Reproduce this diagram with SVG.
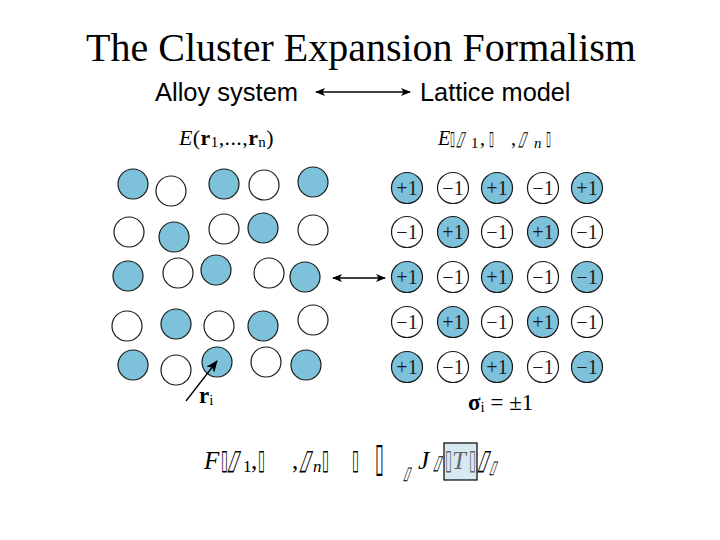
<svg xmlns="http://www.w3.org/2000/svg" width="720" height="540" viewBox="0 0 720 540">
<style>
.f{fill:#7dc1da;stroke:#1a1a1a;stroke-width:1.2}
.w{fill:#fff;stroke:#1a1a1a;stroke-width:1.2}
.num{font-family:"Liberation Serif",serif;font-size:20px;fill:#1a1a1a;text-anchor:middle}
.ser{font-family:"Liberation Serif",serif;fill:#000}
.tofu{font-family:"DejaVu Sans",sans-serif;fill:#000}
.g{fill:#666}
.ln{stroke:#000;stroke-width:1.3;fill:none}
</style>
<defs>
<marker id="ah" viewBox="0 0 10 8" refX="9" refY="4" markerWidth="10" markerHeight="8" markerUnits="userSpaceOnUse" orient="auto-start-reverse">
<path d="M0,0 L10,4 L0,8 L2.5,4 Z" fill="#000"/>
</marker>
<marker id="ah2" viewBox="0 0 12 10" refX="11" refY="5" markerWidth="12" markerHeight="10" markerUnits="userSpaceOnUse" orient="auto">
<path d="M0,0 L12,5 L0,10 L3,5 Z" fill="#000"/>
</marker>
</defs>
<rect width="720" height="540" fill="#fff"/>
<text id="title" x="361" y="61" class="ser" font-size="40" text-anchor="middle">The Cluster Expansion Formalism</text>
<text id="alloy" x="155" y="101" font-family="Liberation Sans,Arial,sans-serif" font-size="25.5">Alloy system</text>
<text id="lattice" x="420" y="101" font-family="Liberation Sans,Arial,sans-serif" font-size="25.3">Lattice model</text>
<text id="eleft" x="179" y="145" class="ser" font-size="22" letter-spacing="0.4"><tspan font-style="italic">E</tspan>(<tspan font-weight="bold">r</tspan><tspan font-size="15" dy="2">1</tspan><tspan dy="-2">,...,</tspan><tspan font-weight="bold">r</tspan><tspan font-size="15" dy="2">n</tspan><tspan dy="-2">)</tspan></text>
<g id="eright">
<text x="438" y="145" class="ser" font-size="20" font-style="italic">E</text>
<text transform="translate(450,145) scale(0.45,1)" class="tofu" font-size="20">▯</text>
<text transform="translate(456,145) skewX(-20) scale(0.6,1)" class="tofu" font-size="20">▯</text>
<text x="471" y="148" class="ser" font-size="15">1</text>
<text x="480" y="145" class="ser" font-size="20">,</text>
<text transform="translate(489,145) scale(0.45,1)" class="tofu" font-size="20">▯</text>
<text x="511" y="145" class="ser" font-size="20">,</text>
<text transform="translate(518,145) skewX(-20) scale(0.6,1)" class="tofu" font-size="20">▯</text>
<text x="534" y="148" class="ser" font-size="15" font-style="italic">n</text>
<text transform="translate(546,145) scale(0.45,1)" class="tofu" font-size="20">▯</text>
</g>
<g id="alloy-grid">
<circle class="f" cx="133" cy="184" r="15"/><circle class="w" cx="171" cy="191" r="15"/><circle class="f" cx="224" cy="184" r="15"/><circle class="w" cx="264" cy="185" r="15"/><circle class="f" cx="313" cy="182" r="15"/>
<circle class="w" cx="129" cy="232" r="15"/><circle class="f" cx="174" cy="237" r="15"/><circle class="w" cx="224" cy="229" r="15"/><circle class="f" cx="263" cy="228" r="15"/><circle class="w" cx="313" cy="230" r="15"/>
<circle class="f" cx="128" cy="276" r="15"/><circle class="w" cx="178" cy="273" r="15"/><circle class="f" cx="216" cy="270" r="15"/><circle class="w" cx="269" cy="273" r="15"/><circle class="f" cx="305" cy="277" r="15"/>
<circle class="w" cx="127" cy="326" r="15"/><circle class="f" cx="176" cy="324" r="15"/><circle class="w" cx="219" cy="326" r="15"/><circle class="f" cx="263" cy="326" r="15"/><circle class="w" cx="313" cy="320" r="15"/>
<circle class="f" cx="133" cy="365" r="15"/><circle class="w" cx="176" cy="370" r="15"/><circle class="f" cx="217" cy="362" r="15"/><circle class="w" cx="266" cy="362" r="15"/><circle class="f" cx="306" cy="365" r="15"/>
</g>
<text id="ri" x="199" y="403" class="ser" font-size="23" font-weight="bold">r<tspan font-size="15" font-weight="normal" dy="2">i</tspan></text>
<g id="lattice-grid">
<g><circle class="f" cx="407" cy="188" r="15.5"/><text class="num" x="407" y="195">+1</text></g>
<g><circle class="w" cx="453" cy="188" r="15.5"/><text class="num" x="453" y="195">−1</text></g>
<g><circle class="f" cx="497" cy="188" r="15.5"/><text class="num" x="497" y="195">+1</text></g>
<g><circle class="w" cx="543" cy="188" r="15.5"/><text class="num" x="543" y="195">−1</text></g>
<g><circle class="f" cx="587" cy="188" r="15.5"/><text class="num" x="587" y="195">+1</text></g>
<g><circle class="w" cx="407" cy="232" r="15.5"/><text class="num" x="407" y="239">−1</text></g>
<g><circle class="f" cx="453" cy="232" r="15.5"/><text class="num" x="453" y="239">+1</text></g>
<g><circle class="w" cx="497" cy="232" r="15.5"/><text class="num" x="497" y="239">−1</text></g>
<g><circle class="f" cx="543" cy="232" r="15.5"/><text class="num" x="543" y="239">+1</text></g>
<g><circle class="w" cx="587" cy="232" r="15.5"/><text class="num" x="587" y="239">−1</text></g>
<g><circle class="f" cx="407" cy="277" r="15.5"/><text class="num" x="407" y="284">+1</text></g>
<g><circle class="w" cx="453" cy="277" r="15.5"/><text class="num" x="453" y="284">−1</text></g>
<g><circle class="f" cx="497" cy="277" r="15.5"/><text class="num" x="497" y="284">+1</text></g>
<g><circle class="w" cx="543" cy="277" r="15.5"/><text class="num" x="543" y="284">−1</text></g>
<g><circle class="f" cx="587" cy="277" r="15.5"/><text class="num" x="587" y="284">−1</text></g>
<g><circle class="w" cx="407" cy="322" r="15.5"/><text class="num" x="407" y="329">−1</text></g>
<g><circle class="f" cx="453" cy="322" r="15.5"/><text class="num" x="453" y="329">+1</text></g>
<g><circle class="w" cx="497" cy="322" r="15.5"/><text class="num" x="497" y="329">−1</text></g>
<g><circle class="f" cx="543" cy="322" r="15.5"/><text class="num" x="543" y="329">+1</text></g>
<g><circle class="w" cx="587" cy="322" r="15.5"/><text class="num" x="587" y="329">−1</text></g>
<g><circle class="f" cx="407" cy="367" r="15.5"/><text class="num" x="407" y="374">+1</text></g>
<g><circle class="w" cx="453" cy="367" r="15.5"/><text class="num" x="453" y="374">−1</text></g>
<g><circle class="f" cx="497" cy="367" r="15.5"/><text class="num" x="497" y="374">+1</text></g>
<g><circle class="w" cx="543" cy="367" r="15.5"/><text class="num" x="543" y="374">−1</text></g>
<g><circle class="f" cx="587" cy="367" r="15.5"/><text class="num" x="587" y="374">−1</text></g>
</g>
<text id="sigma" x="468" y="410" class="ser" font-size="23"><tspan font-weight="bold">σ</tspan><tspan font-size="15" dy="2">i</tspan><tspan dy="-2"> = ±1</tspan></text>
<g id="formula">
<rect x="444" y="443" width="33" height="37" fill="#d6eaf1" stroke="#000" stroke-width="1.2"/>
<text x="204" y="469" class="ser" font-size="25" font-style="italic">F</text>
<text transform="translate(221,469) scale(0.45,1)" class="tofu" font-size="28">▯</text>
<text transform="translate(227,469) skewX(-20) scale(0.6,1)" class="tofu" font-size="28">▯</text>
<text x="243" y="472" class="ser" font-size="17">1</text>
<text x="251" y="469" class="ser" font-size="25">,</text>
<text transform="translate(258,469) scale(0.45,1)" class="tofu" font-size="28">▯</text>
<text x="292" y="469" class="ser" font-size="25">,</text>
<text transform="translate(299,469) skewX(-20) scale(0.6,1)" class="tofu" font-size="28">▯</text>
<text x="313" y="472" class="ser" font-size="17" font-style="italic">n</text>
<text transform="translate(322,469) scale(0.45,1)" class="tofu" font-size="28">▯</text>
<text transform="translate(352,469) scale(0.45,1)" class="tofu" font-size="28">▯</text>
<text transform="translate(375,471) scale(0.4,1)" class="tofu" font-size="40">▯</text>
<text transform="translate(403,479) skewX(-20) scale(0.6,1)" class="tofu" font-size="18">▯</text>
<text x="418" y="469" class="ser" font-size="25" font-style="italic">J</text>
<text transform="translate(433,469) skewX(-20) scale(0.6,1)" class="tofu" font-size="20">▯</text>
<text transform="translate(445,469) scale(0.45,1)" class="tofu g" font-size="28">▯</text>
<text x="452" y="469" class="ser g" font-size="25" font-style="italic">T</text>
<text transform="translate(469,469) scale(0.45,1)" class="tofu g" font-size="28">▯</text>
<text transform="translate(477,469) skewX(-20) scale(0.6,1)" class="tofu" font-size="28">▯</text>
<text transform="translate(489,473) skewX(-20) scale(0.6,1)" class="tofu" font-size="18">▯</text>
</g>
<g id="connectors">
<line class="ln" x1="316" y1="92" x2="410" y2="92" marker-start="url(#ah)" marker-end="url(#ah)"/>
<line class="ln" x1="333" y1="278" x2="385" y2="278" marker-start="url(#ah)" marker-end="url(#ah)"/>
<line class="ln" x1="186" y1="401" x2="217" y2="361" marker-end="url(#ah2)"/>
</g>
</svg>
